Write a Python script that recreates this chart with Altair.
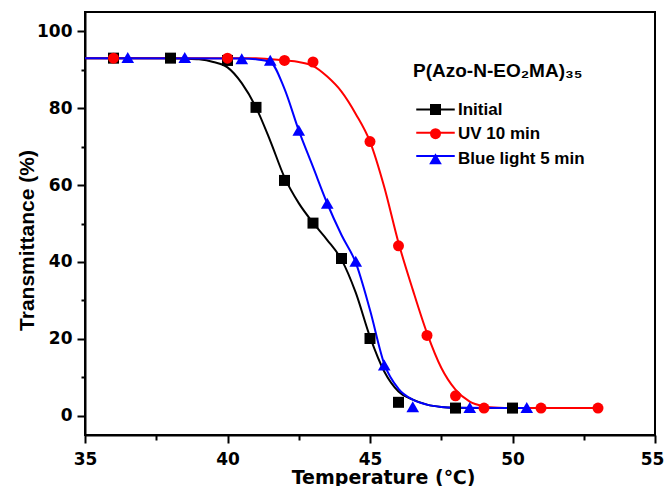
import altair as alt
import pandas as pd

series_names = ["Initial", "UV 10 min", "Blue light 5 min"]
series_colors = ["#000000", "#FF0000", "#0000FF"]
marker_shapes = ["square", "circle", "M0,-1.05L1.15,0.95L-1.15,0.95Z"]

# measured data points
init_T = [36, 38, 40, 41, 42, 43, 44, 45, 46, 48, 50]
init_y = [93.0, 93.0, 92.4, 80.2, 61.2, 50.1, 40.9, 20.1, 3.5, 2.0, 2.0]
uv_T = [36, 40, 42, 43, 45, 46, 47, 48, 49, 51, 53]
uv_y = [93.0, 93.0, 92.4, 92.0, 71.3, 44.2, 20.9, 5.2, 2.0, 2.0, 2.0]
blue_T = [36.5, 38.5, 40.5, 41.5, 42.5, 43.5, 44.5, 45.5, 46.5, 48.5, 50.5]
blue_y = [93.1, 93.1, 92.8, 92.4, 74.2, 55.2, 40.1, 13.1, 2.3, 2.1, 2.1]

# fitted curves
init_fit_T = [35, 38, 38.5, 39, 39.5, 40, 40.5, 41, 41.5, 42, 42.5, 43, 43.5, 44, 44.5,
              45, 45.5, 46, 46.5, 47, 47.5, 48, 49, 50.4]
init_fit_y = [93.0, 93.0, 92.9, 92.7, 92.0, 90.6, 86.5, 80.2, 71.5, 62.0, 55.3, 50.2, 45.7,
              40.6, 32.0, 20.5, 11.5, 6.3, 4.2, 2.9, 2.3, 2.1, 2.0, 2.0]
uv_fit_T = [35, 41, 42, 42.5, 43, 43.5, 44, 44.5, 45, 45.5, 46, 46.5, 47, 47.5, 48, 48.5,
            49, 49.5, 50, 53]
uv_fit_y = [93.0, 93.0, 92.4, 92.0, 91.0, 88.2, 84.3, 78.5, 71.3, 59.5, 45.0, 32.8, 21.5,
            12.5, 6.8, 3.7, 2.5, 2.1, 2.0, 2.0]
blue_fit_T = [35, 40.5, 41, 41.5, 42, 42.5, 43, 43.5, 44, 44.5, 45, 45.5, 46, 46.5, 47,
              47.5, 48, 50.5]
blue_fit_y = [93.0, 92.9, 92.7, 92.0, 85.0, 74.2, 64.7, 55.2, 47.0, 39.8, 27.5, 13.5, 7.0,
              4.2, 2.9, 2.3, 2.1, 2.0]

x_major = [35, 40, 45, 50, 55]
x_minor = [37.5, 42.5, 47.5, 52.5]
y_major = [0, 20, 40, 60, 80, 100]
y_minor = [10, 30, 50, 70, 90]

legend_title = "P(Azo-N-EO\u2082MA)\u2083\u2085"

pts = pd.concat([
    pd.DataFrame({"T": init_T, "y": init_y, "series": series_names[0]}),
    pd.DataFrame({"T": uv_T, "y": uv_y, "series": series_names[1]}),
    pd.DataFrame({"T": blue_T, "y": blue_y, "series": series_names[2]}),
], ignore_index=True)

fits = pd.concat([
    pd.DataFrame({"T": init_fit_T, "y": init_fit_y, "curve": series_names[0]}),
    pd.DataFrame({"T": uv_fit_T, "y": uv_fit_y, "curve": series_names[1]}),
    pd.DataFrame({"T": blue_fit_T, "y": blue_fit_y, "curve": series_names[2]}),
], ignore_index=True)

xscale = alt.Scale(domain=[35, 55], nice=False, zero=False)
yscale = alt.Scale(domain=[-5, 105], nice=False, zero=False)

legend_common = dict(
    orient="none", legendX=328, legendY=50,
    titleFont="Liberation Sans", titleFontSize=19,
    titleFontWeight="bold", titleColor="black", titlePadding=20,
    labelFont="Liberation Sans", labelFontSize=17, labelFontWeight="bold",
    labelColor="black", symbolSize=121, rowPadding=5.2, symbolOffset=14,
    labelOffset=14, symbolStrokeWidth=2,
)

lines = alt.Chart(fits).mark_line(strokeWidth=2, interpolate="monotone").encode(
    x=alt.X("T:Q", scale=xscale, axis=alt.Axis(
        orient="bottom", values=x_major, tickSize=8, tickWidth=2, tickColor="black",
        domainColor="black", domainWidth=2, grid=False,
        labelFont="DejaVu Sans", labelFontSize=17, labelFontWeight="bold",
        labelColor="black", labelPadding=8, labelFlush=False, labelOverlap=False,
        labelOffset={"condition": {"test": "datum.value >= 55", "value": -3}, "value": 0},
        title="Temperature (\u2103)", titleFont="DejaVu Sans", titleFontSize=19,
        titleFontWeight="bold", titleColor="black", titleX=298, titleY=48,
        titleBaseline="alphabetic")),
    y=alt.Y("y:Q", scale=yscale, axis=alt.Axis(
        orient="left", values=y_major, tickSize=8, tickWidth=2, tickColor="black",
        domainColor="black", domainWidth=2, grid=False,
        labelFont="DejaVu Sans", labelFontSize=17, labelFontWeight="bold",
        labelColor="black", labelPadding=5, labelOverlap=False,
        title="Transmittance (%)", titleFont="Liberation Sans", titleFontSize=21,
        titleFontWeight="bold", titleColor="black", titleX=-52, titleY=228,
        titleAngle=270, titleBaseline="alphabetic")),
    color=alt.Color("curve:N", sort=series_names,
                    scale=alt.Scale(range=series_colors),
                    legend=alt.Legend(symbolType="M-3.5,0H3.5", title=" ",
                                      labelExpr="' '", **legend_common)),
    detail="curve:N",
)

points = alt.Chart(pts).mark_point(filled=True, size=121, opacity=1).encode(
    x=alt.X("T:Q", scale=xscale, axis=alt.Axis(
        orient="bottom", values=x_minor, tickSize=5, tickWidth=2, tickColor="black",
        domain=False, labels=False, grid=False, title=None)),
    y=alt.Y("y:Q", scale=yscale, axis=alt.Axis(
        orient="left", values=y_minor, tickSize=4, tickWidth=2, tickColor="black",
        domain=False, labels=False, grid=False, title=None)),
    fill=alt.Fill("series:N", scale=alt.Scale(domain=series_names, range=series_colors),
                  legend=alt.Legend(title=legend_title, **legend_common)),
    shape=alt.Shape("series:N", scale=alt.Scale(domain=series_names, range=marker_shapes),
                    legend=alt.Legend(title=legend_title, **legend_common)),
    order=alt.Order("ord:Q"),
).transform_calculate(ord="datum.series === 'Initial' ? 0 : (datum.series === 'UV 10 min' ? 1 : 2)")

chart = alt.layer(lines, points).resolve_axis(x="independent", y="independent").properties(
    width=570, height=423,
    autosize=alt.AutoSizeParams(type="none"),
    padding={"left": 77, "top": 4, "right": 9, "bottom": 51},
    background="white",
).configure_view(stroke="black", strokeWidth=2)

chart.save("out.html", embed_options={"renderer": "svg", "actions": False})
